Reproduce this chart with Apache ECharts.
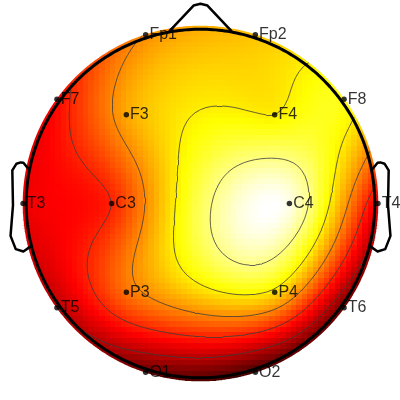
<!DOCTYPE html>
<html><head><meta charset="utf-8">
<script src="https://cdn.jsdelivr.net/npm/echarts@6/dist/echarts.min.js"></script>
<style>html,body{margin:0;padding:0;background:#fff}#c{width:400px;height:400px}</style>
</head><body><div id="c"></div>
<script>
// ---- data ----
const channels = ['Fp1','Fp2','F7','F3','F4','F8','T3','C3','C4','T4','T5','P3','P4','T6','O1','O2'];
const theta    = [-18, 18, -54, -39.89, 39.89, 54, -90, -90, 90, 90, -126, -140.11, 140.11, 126, -162, 162];
const radius   = [0.511,0.511,0.511,0.333,0.333,0.511,0.511,0.256,0.256,0.511,0.511,0.333,0.333,0.511,0.511,0.511];
const values   = [0.15, 0.30, -0.22, 0.22, 0.42, 0.50, -0.28, -0.14, 0.88, -0.30, -0.42, 0.07, 0.38, -0.62, -0.64, -0.74];
const contourLevels = [-0.42, -0.14, 0.14, 0.42, 0.70];
const hotColors = ['#000000','#550000','#aa0000','#ff0000','#ff5500','#ffaa00','#ffff00','#ffff80','#ffffff'];

// ---- topoplot computation (EEGLAB-like) ----
const GRID = 67, RMAX = 0.5;
const plotrad = Math.max(0.5, Math.min(1, Math.max(...radius) * 1.02));
const squeeze = RMAX / plotrad;
const ex = theta.map((t, i) => radius[i] * Math.sin(t * Math.PI / 180) * squeeze);
const ey = theta.map((t, i) => radius[i] * Math.cos(t * Math.PI / 180) * squeeze);
const n = channels.length;
function green(d) { return d === 0 ? 0 : d * d * (Math.log(d) - 1); }
const M = [];
for (let i = 0; i < n; i++) {
  const row = [];
  for (let j = 0; j < n; j++) row.push(green(Math.hypot(ex[i] - ex[j], ey[i] - ey[j])));
  row.push(values[i]);
  M.push(row);
}
for (let c = 0; c < n; c++) {
  let p = c;
  for (let r = c + 1; r < n; r++) if (Math.abs(M[r][c]) > Math.abs(M[p][c])) p = r;
  [M[c], M[p]] = [M[p], M[c]];
  for (let r = 0; r < n; r++) {
    if (r === c) continue;
    const f = M[r][c] / M[c][c];
    for (let k = c; k <= n; k++) M[r][k] -= f * M[c][k];
  }
}
const w = M.map((row, i) => row[n] / row[i]);
const gx = [];
for (let k = 0; k < GRID; k++) gx.push(-RMAX + 2 * RMAX * k / (GRID - 1));
const half = RMAX / (GRID - 1);
const Z = [];
let absmax = 0;
for (let j = 0; j < GRID; j++) {
  const row = [];
  for (let i = 0; i < GRID; i++) {
    const x = gx[i], y = gx[j];
    if (Math.hypot(x, y) > RMAX) { row.push(NaN); continue; }
    let z = 0;
    for (let e = 0; e < n; e++) z += w[e] * green(Math.hypot(x - ex[e], y - ey[e]));
    row.push(z);
    absmax = Math.max(absmax, Math.abs(z));
  }
  Z.push(row);
}
const heat = [];
for (let j = 0; j < GRID; j++) for (let i = 0; i < GRID; i++) if (!isNaN(Z[j][i])) heat.push([gx[i], gx[j], Z[j][i]]);

// contours (marching squares)
const segs = [];
for (const L of contourLevels) {
  for (let j = 0; j < GRID - 1; j++) for (let i = 0; i < GRID - 1; i++) {
    const a = Z[j][i], b = Z[j][i + 1], c = Z[j + 1][i + 1], d = Z[j + 1][i];
    if (isNaN(a) || isNaN(b) || isNaN(c) || isNaN(d)) continue;
    const x0 = gx[i], x1 = gx[i + 1], y0 = gx[j], y1 = gx[j + 1];
    const pts = [];
    const cross = (va, vb) => (va > L) !== (vb > L);
    const t = (va, vb) => (L - va) / (vb - va);
    if (cross(a, b)) pts.push([x0 + (x1 - x0) * t(a, b), y0]);
    if (cross(b, c)) pts.push([x1, y0 + (y1 - y0) * t(b, c)]);
    if (cross(d, c)) pts.push([x0 + (x1 - x0) * t(d, c), y1]);
    if (cross(a, d)) pts.push([x0, y0 + (y1 - y0) * t(a, d)]);
    if (pts.length === 2) segs.push({coords: [pts[0], pts[1]]});
    else if (pts.length === 4) {
      const ctr = (a + b + c + d) / 4;
      if ((ctr > L) === (a > L)) { segs.push({coords: [pts[0], pts[1]]}); segs.push({coords: [pts[2], pts[3]]}); }
      else { segs.push({coords: [pts[0], pts[3]]}); segs.push({coords: [pts[1], pts[2]]}); }
    }
  }
}

// head cartoon (EEGLAB geometry)
function circle(r) { const p = []; for (let k = 0; k <= 360; k++) p.push([r * Math.cos(k * Math.PI / 180), r * Math.sin(k * Math.PI / 180)]); return p; }
const headR = squeeze * RMAX * (1 - 0.007 / 2) + 0.0035;
const ringR = (RMAX * (1 - 0.035 / 2) + 0.516) / 2;
const sf = RMAX / plotrad;
const noseX = [0.18 * RMAX, 0.04 * RMAX, 0, -0.04 * RMAX, -0.18 * RMAX];
const noseY = [RMAX - 0.0046, 1.15 * RMAX - 0.01 * RMAX, 1.15 * RMAX, 1.15 * RMAX - 0.01 * RMAX, RMAX - 0.0046];
const q = 0.04;
const earX = [0.497 - 0.005, 0.510, 0.518, 0.5299, 0.5419, 0.54, 0.547, 0.532, 0.510, 0.489 - 0.005];
const earY = [q + 0.0555, q + 0.0775, q + 0.0783, q + 0.0746, q + 0.0555, -0.0055, -0.0932, -0.1313, -0.1384, -0.1199];
const nose = noseX.map((x, i) => [x * sf, noseY[i] * sf]);
const earL = earX.map((x, i) => [-x * sf, earY[i] * sf]);
const earR = earX.map((x, i) => [x * sf, earY[i] * sf]);

const PX = 362, CX = 200.5, CY = 203.5, W = 400, H = 400;

const chart = echarts.init(document.getElementById('c'), null, {renderer: 'canvas'});
const lineBase = {type: 'line', showSymbol: false, symbol: 'none', clip: false, silent: true, animation: false};
chart.setOption({
  animation: false,
  backgroundColor: '#ffffff',
  grid: {left: 0, top: 0, width: W, height: H, outerBoundsMode: 'none', containLabel: false},
  xAxis: {type: 'value', min: -CX / PX, max: (W - CX) / PX, show: false},
  yAxis: {type: 'value', min: -(H - CY) / PX, max: CY / PX, show: false},
  visualMap: {type: 'continuous', show: false, min: -absmax, max: absmax, dimension: 2, seriesIndex: 0, inRange: {color: hotColors}},
  series: [
    {type: 'custom', data: heat, silent: true, z: 1, encode: {x: 0, y: 1},
     renderItem: function (params, api) {
       const x = api.value(0), y = api.value(1);
       const p0 = api.coord([x - half, y + half]);
       const p1 = api.coord([x + half, y - half]);
       const x0 = Math.round(p0[0]), y0 = Math.round(p0[1]);
       const x1 = Math.round(p1[0]), y1 = Math.round(p1[1]);
       return {type: 'rect', shape: {x: x0, y: y0, width: x1 - x0, height: y1 - y0},
               style: {fill: api.visual('color')}};
     }},
    {type: 'lines', coordinateSystem: 'cartesian2d', data: segs, silent: true,
     lineStyle: {color: '#3c3c3c', width: 0.8, opacity: 1}, z: 2, animation: false},
    Object.assign({}, lineBase, {data: circle(ringR), lineStyle: {color: '#ffffff', width: 9}, z: 3}),
    Object.assign({}, lineBase, {data: circle(headR), lineStyle: {color: '#000000', width: 3}, z: 4}),
    Object.assign({}, lineBase, {data: nose, lineStyle: {color: '#000000', width: 2.5, join: 'round'}, z: 4}),
    Object.assign({}, lineBase, {data: earL, lineStyle: {color: '#000000', width: 2.5, join: 'round'}, z: 4}),
    Object.assign({}, lineBase, {data: earR, lineStyle: {color: '#000000', width: 2.5, join: 'round'}, z: 4}),
    {type: 'scatter', symbol: 'circle', symbolSize: 5.5, silent: true, z: 5,
     itemStyle: {color: '#000000'},
     data: channels.map((c, i) => ({name: c, value: [ex[i], ey[i]]})),
     label: {show: true, position: 'right', distance: 1, formatter: p => p.name, color: '#000000',
             fontSize: 16, fontFamily: 'Liberation Sans, Arial, sans-serif'}}
  ]
});
</script></body></html>
